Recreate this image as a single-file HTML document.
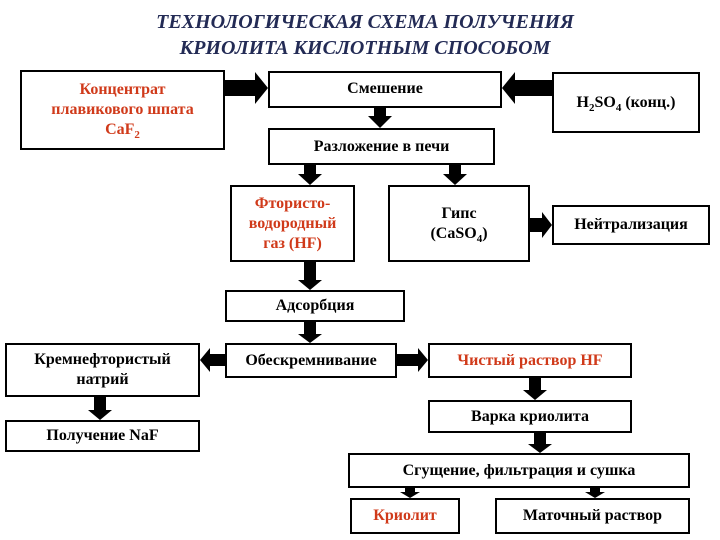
<!DOCTYPE html>
<html><head><meta charset="utf-8"><style>
body{margin:0;width:720px;height:540px;background:#fff;position:relative;overflow:hidden;font-family:"Liberation Serif",serif;font-weight:bold}
.b{position:absolute;border:2px solid #000;box-sizing:border-box;display:flex;align-items:center;justify-content:center;text-align:center;font-size:16px;line-height:20px;color:#000;background:#fff}
.b sub{font-size:11px;line-height:0;vertical-align:-4px}
.r{color:#d03a1a}
.t{position:absolute;left:0;width:730px;text-align:center;font-style:italic;font-size:20px;color:#232b55;line-height:26px}
svg{position:absolute;left:0;top:0}
</style></head><body>
<div class="t" style="top:9px">ТЕХНОЛОГИЧЕСКАЯ СХЕМА ПОЛУЧЕНИЯ<br>КРИОЛИТА КИСЛОТНЫМ СПОСОБОМ</div>
<svg width="720" height="540" fill="#000">
<polygon points="225,80 255,80 255,72 268,88 255,104 255,96 225,96"/>
<polygon points="552,80 515,80 515,72 502,88 515,104 515,96 552,96"/>
<polygon points="374,108 386,108 386,116 392,116 380,128 368,116 374,116"/>
<polygon points="304,165 316,165 316,174 322,174 310,185 298,174 304,174"/>
<polygon points="449,165 461,165 461,174 467,174 455,185 443,174 449,174"/>
<polygon points="530,218 542,218 542,212 552,225 542,238 542,232 530,232"/>
<polygon points="304,262 316,262 316,280 322,280 310,290 298,280 304,280"/>
<polygon points="304,322 316,322 316,334 322,334 310,343 298,334 304,334"/>
<polygon points="225,354 210,354 210,348 200,360 210,372 210,366 225,366"/>
<polygon points="397,354 418,354 418,348 428,360 418,372 418,366 397,366"/>
<polygon points="529,378 541,378 541,390 547,390 535,400 523,390 529,390"/>
<polygon points="94,397 106,397 106,410 112,410 100,420 88,410 94,410"/>
<polygon points="534,433 546,433 546,444 552,444 540,453 528,444 534,444"/>
<polygon points="405,488 415,488 415,492 420,492 410,498 400,492 405,492"/>
<polygon points="590,488 600,488 600,492 605,492 595,498 585,492 590,492"/>
</svg>
<div class="b r" style="left:20px;top:70px;width:205px;height:80px"><span>Концентрат<br>плавикового шпата<br>CaF<sub>2</sub></span></div>
<div class="b" style="left:268px;top:71px;width:234px;height:37px;align-items:flex-start;padding-top:6px"><span>Смешение</span></div>
<div class="b" style="left:552px;top:72px;width:148px;height:61px"><span>H<sub>2</sub>SO<sub>4</sub>&nbsp;(конц.)</span></div>
<div class="b" style="left:268px;top:128px;width:227px;height:37px;align-items:flex-end;padding-bottom:6px"><span>Разложение в печи</span></div>
<div class="b r" style="left:230px;top:185px;width:125px;height:77px"><span>Фтористо-<br>водородный<br>газ (HF)</span></div>
<div class="b" style="left:388px;top:185px;width:142px;height:77px"><span>Гипс<br>(CaSO<sub>4</sub>)</span></div>
<div class="b" style="left:552px;top:205px;width:158px;height:40px"><span>Нейтрализация</span></div>
<div class="b" style="left:225px;top:290px;width:180px;height:32px"><span>Адсорбция</span></div>
<div class="b" style="left:225px;top:343px;width:172px;height:35px"><span>Обескремнивание</span></div>
<div class="b" style="left:5px;top:343px;width:195px;height:54px"><span>Кремнефтористый<br>натрий</span></div>
<div class="b r" style="left:428px;top:343px;width:204px;height:35px"><span>Чистый раствор HF</span></div>
<div class="b" style="left:428px;top:400px;width:204px;height:33px"><span>Варка криолита</span></div>
<div class="b" style="left:5px;top:420px;width:195px;height:32px"><span>Получение NaF</span></div>
<div class="b" style="left:348px;top:453px;width:342px;height:35px"><span>Сгущение, фильтрация и сушка</span></div>
<div class="b r" style="left:350px;top:498px;width:110px;height:36px"><span>Криолит</span></div>
<div class="b" style="left:495px;top:498px;width:195px;height:36px"><span>Маточный раствор</span></div>
</body></html>
